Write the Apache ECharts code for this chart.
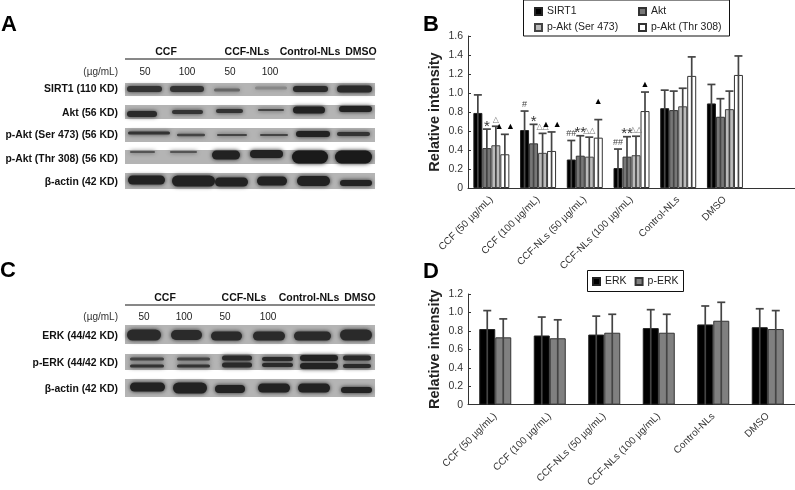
<!DOCTYPE html>
<html>
<head>
<meta charset="utf-8">
<style>
  html, body { margin: 0; padding: 0; background: #fff; }
  #chart { width: 795px; height: 490px; }
</style>
<script src="https://cdn.jsdelivr.net/npm/echarts@6/dist/echarts.min.js"></script>
</head>
<body>
<div id="chart"></div>
<script>
// panel B data
const categoriesB = ['CCF (50 µg/mL)', 'CCF (100 µg/mL)', 'CCF-NLs (50 µg/mL)', 'CCF-NLs (100 µg/mL)', 'Control-NLs', 'DMSO', ''];
const namesB = ['SIRT1', 'Akt', 'p-Akt (Ser 473)', 'p-Akt (Thr 308)'];
const sirt1 = [0.79, 0.61, 0.30, 0.21, 0.84, 0.89];
const akt = [0.42, 0.47, 0.34, 0.33, 0.82, 0.75];
const pAktSer = [0.45, 0.37, 0.33, 0.345, 0.86, 0.83];
const pAktThr = [0.355, 0.39, 0.53, 0.81, 1.18, 1.19];
const sirt1Top = [0.98, 0.81, 0.50, 0.41, 1.03, 1.09];
const aktTop = [0.62, 0.67, 0.55, 0.54, 1.02, 0.94];
const pAktSerTop = [0.65, 0.575, 0.535, 0.545, 1.05, 1.02];
const pAktThrTop = [0.565, 0.59, 0.72, 1.01, 1.38, 1.39];
const sirt1Marks = ['', '#', '##', '##', '', ''];
const aktMarks = ['*', '*', '**', '**', '', ''];
const pAktSerMarks = ['△', '△△', '△△', '△△', '', ''];
const pAktThrMarks = ['▲ ▲', '▲ ▲', '▲\n ', '▲', '', ''];

// panel D data
const categoriesD = ['CCF (50 µg/mL)', 'CCF (100 µg/mL)', 'CCF-NLs (50 µg/mL)', 'CCF-NLs (100 µg/mL)', 'Control-NLs', 'DMSO'];
const erk = [0.82, 0.75, 0.76, 0.83, 0.87, 0.84];
const pErk = [0.73, 0.72, 0.78, 0.78, 0.91, 0.82];
const erkTop = [1.02, 0.95, 0.96, 1.03, 1.07, 1.04];
const pErkTop = [0.93, 0.92, 0.98, 0.98, 1.11, 1.02];

const FONT = '"Liberation Sans", "DejaVu Sans", sans-serif';
const barWidthB = 9;
const barWidthD = 16;

// western blots: these are photographs in the original, drawn here as soft bands
// [left, right, centre y, thickness, colour]
const blotsA = [
  { y: 83, h: 13, bands: [[127,162,89,6,'#333'],[170,204,89,6,'#333'],[214,240,90,3,'#666'],[255,287,88,3,'#888'],[293,328,89,6,'#2a2a2a'],[337,372,89,7,'#2a2a2a']] },
  { y: 105, h: 14, bands: [[127,157,114,6,'#2a2a2a'],[172,203,112,4,'#333'],[216,243,111,4,'#333'],[258,284,110,2,'#444'],[293,325,110,7,'#222'],[339,372,109,6,'#222']] },
  { y: 128, h: 14, bands: [[128,170,133,3,'#333'],[177,205,135,2.5,'#444'],[217,247,135,2,'#444'],[260,288,135,2,'#444'],[296,330,134,6,'#222'],[337,370,134,4,'#333']] },
  { y: 150, h: 14, bands: [[130,155,152,2,'#555'],[170,197,152,2,'#555'],[212,240,155,9,'#222'],[250,283,154,8,'#222'],[292,328,157,13,'#1a1a1a'],[335,372,157,13,'#1a1a1a']] },
  { y: 173, h: 16, bands: [[128,165,180,9,'#222'],[172,215,181,11,'#222'],[215,248,182,9,'#222'],[257,287,181,9,'#222'],[297,330,181,10,'#222'],[340,372,183,6,'#222']] }
];
const blotsC = [
  { y: 325, h: 19, bands: [[127,161,335,11,'#2a2a2a'],[171,202,335,10,'#2a2a2a'],[211,242,336,9,'#2a2a2a'],[253,285,336,9,'#2a2a2a'],[294,331,336,9,'#2a2a2a'],[340,372,335,11,'#2a2a2a']] },
  { y: 354, h: 16, bands: [[130,164,359,3,'#444'],[130,164,366,3,'#333'],[177,210,359,3,'#444'],[177,210,366,3,'#333'],[222,252,358,5,'#2a2a2a'],[222,252,365,5,'#2a2a2a'],[262,293,359,4,'#2a2a2a'],[262,293,365,4,'#2a2a2a'],[300,338,358,6,'#222'],[300,338,366,6,'#222'],[343,371,358,5,'#2a2a2a'],[343,371,366,4,'#2a2a2a']] },
  { y: 379, h: 18, bands: [[130,165,387,9,'#222'],[173,207,388,11,'#222'],[215,245,389,8,'#222'],[258,290,388,9,'#222'],[298,330,388,9,'#222'],[341,372,390,6,'#222']] }
];
const labelsA = [['SIRT1 (110 KD)', 89], ['Akt (56 KD)', 113], ['p-Akt (Ser 473) (56 KD)', 135], ['p-Akt (Thr 308) (56 KD)', 159], ['β-actin (42 KD)', 182]];
const labelsC = [['ERK (44/42 KD)', 336], ['p-ERK (44/42 KD)', 363], ['β-actin (42 KD)', 389]];

function txt(text, x, y, size, weight, align, color) {
  return {
    type: 'text', x: x, y: y,
    style: { text: text, font: (weight || 'normal') + ' ' + size + 'px ' + FONT, fill: color || '#111', align: align || 'center', verticalAlign: 'middle' }
  };
}

function blotGraphics(blots) {
  const out = [];
  blots.forEach(function (row) {
    out.push({ type: 'rect', shape: { x: 125, y: row.y, width: 250, height: row.h }, style: { fill: '#b4b4b4' } });
    row.bands.forEach(function (b) {
      out.push({
        type: 'rect',
        shape: { x: b[0], y: b[2] - b[3] / 2, width: b[1] - b[0], height: b[3], r: b[3] / 2 },
        style: { fill: b[4], shadowBlur: 4, shadowColor: b[4] }
      });
    });
  });
  return out;
}

function panelHeader(yHead, yLine, yDose, xs, doses) {
  return [
    txt('CCF', xs[0], yHead, 10.5, 'bold'),
    txt('CCF-NLs', xs[1], yHead, 10.5, 'bold'),
    txt('Control-NLs', xs[2], yHead, 10.5, 'bold'),
    txt('DMSO', xs[3], yHead, 10.5, 'bold'),
    { type: 'line', shape: { x1: 125, y1: yLine, x2: 375, y2: yLine }, style: { stroke: '#111', lineWidth: 1 } },
    txt('(µg/mL)', 118, yDose, 10, 'normal', 'right', '#333'),
    txt('50', doses[0], yDose, 10, 'normal', 'center', '#222'),
    txt('100', doses[1], yDose, 10, 'normal', 'center', '#222'),
    txt('50', doses[2], yDose, 10, 'normal', 'center', '#222'),
    txt('100', doses[3], yDose, 10, 'normal', 'center', '#222')
  ];
}

function markStyle(mark) {
  if (mark.indexOf('*') >= 0) return { size: 15, color: '#333', gap: -3 };
  if (mark.indexOf('△') >= 0) return { size: 8, color: '#777', gap: 1 };
  if (mark.indexOf('▲') >= 0) return { size: 9, color: '#000', gap: 2 };
  return { size: 9, color: '#444', gap: 1 };
}

// upper error bars, plus significance marks above the cap
function errorSeries(tops, marks, k, n, barW, axisIdx) {
  return {
    type: 'custom',
    xAxisIndex: axisIdx,
    yAxisIndex: axisIdx,
    encode: { x: 0, y: 1 },
    z: 5,
    data: tops.map(function (t, i) { return [i, t]; }),
    renderItem: function (params, api) {
      const base = api.coord([api.value(0), 0]);
      const top = api.coord([api.value(0), api.value(1)]);
      const x = base[0] + (k - (n - 1) / 2) * barW;
      const kids = [
        { type: 'line', shape: { x1: x, y1: base[1], x2: x, y2: top[1] }, style: { stroke: '#444', lineWidth: 1.7 } },
        { type: 'line', shape: { x1: x - 4, y1: top[1], x2: x + 4, y2: top[1] }, style: { stroke: '#444', lineWidth: 1.7 } }
      ];
      const mark = marks ? marks[params.dataIndex] : '';
      if (mark) {
        const m = markStyle(mark);
        kids.push({
          type: 'text', x: x, y: top[1] - m.gap,
          style: { text: mark, font: m.size + 'px ' + FONT, fill: m.color, align: 'center', verticalAlign: 'bottom', lineHeight: 11 }
        });
      }
      return { type: 'group', children: kids };
    }
  };
}

function barSeries(name, values, fill, border, barW, axisIdx) {
  return {
    name: name,
    type: 'bar',
    xAxisIndex: axisIdx,
    yAxisIndex: axisIdx,
    data: values,
    barWidth: barW,
    barGap: 0,
    itemStyle: { color: fill, borderColor: border, borderWidth: 1 }
  };
}

function xAxis(cats, gridIndex) {
  return {
    type: 'category',
    gridIndex: gridIndex,
    data: cats,
    axisLine: { lineStyle: { color: '#333', width: 1 } },
    axisTick: { inside: true, length: 3, lineStyle: { color: '#333' } },
    axisLabel: { interval: 0, rotate: 45, color: '#333', fontSize: 10, fontFamily: FONT, margin: 10 }
  };
}

function yAxis(max, gridIndex) {
  return {
    type: 'value',
    gridIndex: gridIndex,
    min: 0,
    max: max,
    interval: 0.2,
    name: 'Relative intensity',
    nameLocation: 'middle',
    nameGap: 26,
    nameTextStyle: { color: '#222', fontSize: 14.5, fontWeight: 'bold', fontFamily: FONT },
    axisLine: { show: true, lineStyle: { color: '#333', width: 1 } },
    axisTick: { show: true, inside: true, length: 3, lineStyle: { color: '#333' } },
    axisLabel: {
      color: '#333', fontSize: 10.5, fontFamily: FONT, margin: 5,
      formatter: function (v) { return v === 0 ? '0' : v.toFixed(1); }
    },
    splitLine: { show: false }
  };
}

const legendText = { color: '#222', fontSize: 10.5, fontFamily: FONT };

const graphics = [
  txt('A', 9, 25, 22, 'bold', 'center', '#000'),
  txt('B', 431, 25, 22, 'bold', 'center', '#000'),
  txt('C', 8, 271, 22, 'bold', 'center', '#000'),
  txt('D', 431, 272, 22, 'bold', 'center', '#000'),
  { type: 'rect', shape: { x: 523.5, y: 0, width: 206, height: 36 }, style: { fill: 'none', stroke: '#111', lineWidth: 1 } },
  { type: 'rect', shape: { x: 587.5, y: 270.5, width: 96, height: 21 }, style: { fill: 'none', stroke: '#111', lineWidth: 1 } }
].concat(
  panelHeader(52, 59, 72, [166, 247, 310, 361], [145, 187, 230, 270]),
  blotGraphics(blotsA),
  labelsA.map(function (l) { return txt(l[0], 118, l[1], 10.4, 'bold', 'right'); }),
  panelHeader(298, 305, 317, [165, 244, 309, 360], [144, 184, 225, 268]),
  blotGraphics(blotsC),
  labelsC.map(function (l) { return txt(l[0], 118, l[1], 10.4, 'bold', 'right'); })
);

const chart = echarts.init(document.getElementById('chart'));
chart.setOption({
  animation: false,
  backgroundColor: '#fff',
  textStyle: { fontFamily: FONT },
  grid: [
    { left: 468, top: 36, width: 327, height: 152 },
    { left: 468, top: 294, width: 327, height: 116 }
  ],
  xAxis: [xAxis(categoriesB, 0), xAxis(categoriesD, 1)],
  yAxis: [yAxis(1.6, 0), yAxis(1.2, 1)],
  legend: [
    { data: [namesB[0], namesB[2]], orient: 'vertical', left: 532, top: 4, padding: 2, itemGap: 5, itemWidth: 7, itemHeight: 7, icon: 'rect', textStyle: legendText, selectedMode: false },
    { data: [namesB[1], namesB[3]], orient: 'vertical', left: 636, top: 4, padding: 2, itemGap: 5, itemWidth: 7, itemHeight: 7, icon: 'rect', textStyle: legendText, selectedMode: false },
    { data: ['ERK', 'p-ERK'], orient: 'horizontal', left: 592, top: 276, padding: 0, itemGap: 8, itemWidth: 7, itemHeight: 7, icon: 'rect', textStyle: legendText, selectedMode: false }
  ],
  series: [
    barSeries(namesB[0], sirt1, '#000', '#222', barWidthB, 0),
    barSeries(namesB[1], akt, '#777', '#333', barWidthB, 0),
    barSeries(namesB[2], pAktSer, '#bbb', '#444', barWidthB, 0),
    barSeries(namesB[3], pAktThr, '#fff', '#333', barWidthB, 0),
    errorSeries(sirt1Top, sirt1Marks, 0, 4, barWidthB, 0),
    errorSeries(aktTop, aktMarks, 1, 4, barWidthB, 0),
    errorSeries(pAktSerTop, pAktSerMarks, 2, 4, barWidthB, 0),
    errorSeries(pAktThrTop, pAktThrMarks, 3, 4, barWidthB, 0),
    barSeries('ERK', erk, '#000', '#222', barWidthD, 1),
    barSeries('p-ERK', pErk, '#808080', '#333', barWidthD, 1),
    errorSeries(erkTop, null, 0, 2, barWidthD, 1),
    errorSeries(pErkTop, null, 1, 2, barWidthD, 1)
  ],
  graphic: graphics
});
</script>
</body>
</html>
